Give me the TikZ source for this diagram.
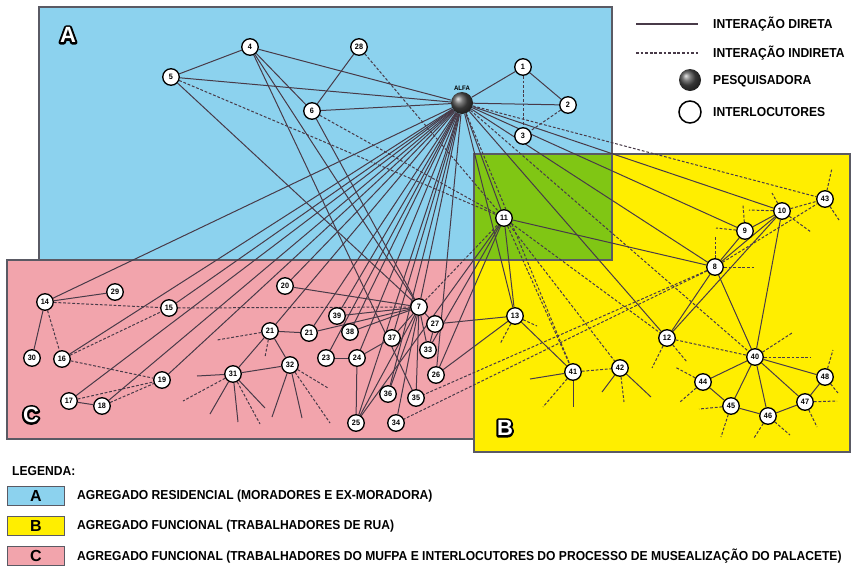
\documentclass[tikz,border=0pt]{standalone}
\usepackage{fontspec}
\setmainfont{Liberation Sans}
\newfontfamily\estreita{Liberation Sans}[FakeStretch=0.93]
\usetikzlibrary{positioning,backgrounds}
\definecolor{azul}{RGB}{140,210,238}
\definecolor{rosa}{RGB}{242,164,172}
\definecolor{amarelo}{RGB}{255,238,0}
\definecolor{verde}{RGB}{128,198,20}
\definecolor{linha}{RGB}{72,58,72}
\definecolor{borda}{RGB}{90,90,100}

% letra branca com contorno preto (copia contornada por baixo, branca por cima)
\newcommand{\letracont}[3]{%
  \node[rotulo] (#1) at #2 {\rlap{\textcolor{black}{\special{pdf:literal direct 1 j 4.2 w 2 Tr}#3\special{pdf:literal direct 0 Tr}}}\textcolor{white}{#3}};}

\begin{document}
\begin{tikzpicture}[x=1pt, y=-1pt,
  pessoa/.style={circle, draw=black, line width=1.3pt, fill=white, minimum size=16.5pt, inner sep=0pt, font=\estreita\bfseries\fontsize{7.8}{7.8}\selectfont},
  esfera/.style={circle, minimum size=22pt, inner sep=0pt, shading=ball, ball color=black!70},
  direta/.style={draw=linha, line width=1pt},
  indireta/.style={draw=linha, line width=1pt, dash pattern=on 2.8pt off 1.8pt},
  regiao/.style={draw=borda, line width=1.3pt},
  rotulo/.style={font=\bfseries\fontsize{22}{22}\selectfont, inner sep=0pt},
  leg/.style={anchor=west, inner sep=0pt, font=\estreita\bfseries\fontsize{13}{13}\selectfont},
  legpeq/.style={anchor=west, inner sep=0pt, font=\estreita\bfseries\fontsize{13}{13}\selectfont},
  legbox/.style={draw=borda, line width=1pt, minimum width=57pt, minimum height=19pt, inner sep=0pt, font=\bfseries\fontsize{16}{16}\selectfont}]
\useasboundingbox (0,0) rectangle (852,582);

% Pesquisadora
\node[esfera] (alfa) at (462,103) {};
\node[above=0pt of alfa, inner sep=1pt, font=\estreita\bfseries\fontsize{6.5}{6.5}\selectfont] (alfarot) {ALFA};

% Agregado A
\node[pessoa] (n1) at (523,67) {1};
\node[pessoa] (n2) at (568,105) {2};
\node[pessoa] (n3) at (523,136) {3};
\node[pessoa] (n4) at (250,47) {4};
\node[pessoa] (n5) at (171,77) {5};
\node[pessoa] (n6) at (312,111) {6};
\node[pessoa] (n28) at (359,47) {28};

% Agregado B
\node[pessoa] (n11) at (504,218) {11};
\node[pessoa] (n10) at (782,211) {10};
\node[pessoa] (n43) at (825,199) {43};
\node[pessoa] (n9) at (745,231) {9};
\node[pessoa] (n8) at (715,267) {8};
\node[pessoa] (n13) at (515,316) {13};
\node[pessoa] (n12) at (667,338) {12};
\node[pessoa] (n41) at (573,372) {41};
\node[pessoa] (n42) at (620,368) {42};
\node[pessoa] (n40) at (755,357) {40};
\node[pessoa] (n44) at (703,382) {44};
\node[pessoa] (n45) at (731,406) {45};
\node[pessoa] (n46) at (768,416) {46};
\node[pessoa] (n47) at (805,402) {47};
\node[pessoa] (n48) at (825,377) {48};

% Agregado C, lado esquerdo
\node[pessoa] (n14) at (45,302) {14};
\node[pessoa] (n29) at (115,292) {29};
\node[pessoa] (n15) at (169,308) {15};
\node[pessoa] (n30) at (32,358) {30};
\node[pessoa] (n16) at (62,359) {16};
\node[pessoa] (n19) at (162,380) {19};
\node[pessoa] (n17) at (69,401) {17};
\node[pessoa] (n18) at (102,406) {18};

% Agregado C, centro
\node[pessoa] (n20) at (285,286) {20};
\node[pessoa] (n7) at (419,307) {7};
\node[pessoa] (n39) at (337,316) {39};
\node[pessoa] (n21a) at (270,331) {21};
\node[pessoa] (n21b) at (309,333) {21};
\node[pessoa] (n38) at (350,332) {38};
\node[pessoa] (n37) at (392,338) {37};
\node[pessoa] (n27) at (435,324) {27};
\node[pessoa] (n33) at (428,350) {33};
\node[pessoa] (n23) at (326,358) {23};
\node[pessoa] (n24) at (357,358) {24};
\node[pessoa] (n31) at (233,374) {31};
\node[pessoa] (n32) at (290,365) {32};
\node[pessoa] (n26) at (436,375) {26};
\node[pessoa] (n36) at (388,394) {36};
\node[pessoa] (n35) at (416,398) {35};
\node[pessoa] (n25) at (356,423) {25};
\node[pessoa] (n34) at (396,423) {34};

% Letras dos agregados
\letracont{letraA}{(68,35)}{A}
\letracont{letraB}{(505,428)}{B}
\letracont{letraC}{(31,415)}{C}

% Legenda de cima
\coordinate (dirA) at (636,24);
\coordinate (dirB) at (698,24);
\coordinate (indA) at (636,53);
\coordinate (indB) at (698,53);
\draw[direta, line width=1.1pt] (dirA) -- (dirB);
\draw[indireta, line width=1.1pt] (indA) -- (indB);
\node[esfera] (legesf) at (690,80) {};
\node[circle, draw=black, line width=1.5pt, minimum size=22pt] (legcirc) at (690,112) {};
\node[leg] (legdir) at (713,24) {INTERAÇÃO DIRETA};
\node[leg] (legind) at (713,53) {INTERAÇÃO INDIRETA};
\node[leg] (legpes) at (713,81) {PESQUISADORA};
\node[leg] (legint) at (713,112) {INTERLOCUTORES};

% Legenda de baixo
\node[legpeq] (legenda) at (12,471) {LEGENDA:};
\node[legbox, fill=azul] (boxA) at (36,496) {A};
\node[legbox, fill=amarelo] (boxB) at (36,526) {B};
\node[legbox, fill=rosa] (boxC) at (36,556) {C};
\node[legpeq] (txtA) at (77,496) {AGREGADO RESIDENCIAL (MORADORES E EX-MORADORA)};
\node[legpeq] (txtB) at (77,526) {AGREGADO FUNCIONAL (TRABALHADORES DE RUA)};
\node[legpeq] (txtC) at (77,556) {AGREGADO FUNCIONAL (TRABALHADORES DO MUFPA E INTERLOCUTORES DO PROCESSO DE MUSEALIZAÇÃO DO PALACETE)};

\begin{scope}[on background layer]
\fill[white] (0,0) rectangle (852,582);
% Regioes
\draw[regiao, fill=azul] (39,7) rectangle (612,260);
\draw[regiao, fill=rosa] (7,260) rectangle (476,439);
\draw[regiao, fill=amarelo] (474,154) rectangle (850,452);
\draw[regiao, fill=verde] (474,154) rectangle (612,260);

% Agregado A
\draw[direta] (alfa) -- (n1);
\draw[direta] (alfa) -- (n2);
\draw[direta] (n1) -- (n2);
\draw[indireta] (n1) -- (n3);
\draw[indireta] (n2) -- (n3);
\draw[direta] (alfa) -- (n4);
\draw[direta] (alfa) -- (n5);
\draw[direta] (alfa) -- (n6);
\draw[direta] (n4) -- (n5);
\draw[direta] (n4) -- (n6);
\draw[direta] (n6) -- (n28);
\draw[direta] (n4) -- (n7);
\draw[direta] (n4) -- (n35);
\draw[direta] (n5) -- (n7);
\draw[direta] (n6) -- (n7);
\draw[indireta] (n28) -- (n11);
\draw[indireta] (n5) -- (n11);
\draw[indireta] (n6) -- (n11);

% ALFA ate o agregado C
\draw[direta] (alfa) -- (n14);
\draw[direta] (alfa) -- (n15);
\draw[direta] (alfa) -- (n16);
\draw[direta] (alfa) -- (n17);
\draw[direta] (alfa) -- (n18);
\draw[direta] (alfa) -- (n19);
\draw[direta] (alfa) -- (n20);
\draw[direta] (alfa) -- (n21a);
\draw[direta] (alfa) -- (n21b);
\draw[direta] (alfa) -- (n39);
\draw[direta] (alfa) -- (n38);
\draw[direta] (alfa) -- (n23);
\draw[direta] (alfa) -- (n24);
\draw[direta] (alfa) -- (n25);
\draw[direta] (alfa) -- (n37);
\draw[direta] (alfa) -- (n36);
\draw[direta] (alfa) -- (n7);
\draw[direta] (alfa) -- (n26);

% ALFA ate o agregado B
\draw[direta] (alfa) -- (n11);
\draw[direta] (alfa) -- (n13);
\draw[direta] (alfa) -- (n12);
\draw[direta] (alfa) -- (n8);
\draw[direta] (alfa) -- (n9);
\draw[direta] (alfa) -- (n10);
\draw[indireta] (alfa) -- (n43);
\draw[indireta] (alfa) -- (n40);
\draw[indireta] (alfa) -- (n41);

% Agregado C, lado esquerdo
\draw[direta] (n14) -- (n29);
\draw[direta] (n14) -- (n30);
\draw[direta] (n17) -- (n18);
\draw[indireta] (n14) -- (n16);
\draw[indireta] (n14) -- (n15);
\draw[indireta] (n15) -- (n7);
\draw[indireta] (n16) -- (n15);
\draw[indireta] (n16) -- (n19);
\draw[indireta] (n17) -- (n19);
\draw[indireta] (n18) -- (n19);

% Agregado C, centro
\draw[direta] (n20) -- (n7);
\draw[direta] (n39) -- (n7);
\draw[direta] (n21b) -- (n7);
\draw[direta] (n38) -- (n7);
\draw[direta] (n37) -- (n7);
\draw[direta] (n25) -- (n7);
\draw[direta] (n36) -- (n7);
\draw[direta] (n35) -- (n7);
\draw[direta] (n34) -- (n7);
\draw[direta] (n27) -- (n7);
\draw[direta] (n33) -- (n7);
\draw[direta] (n21a) -- (n21b);
\draw[direta] (n21a) -- (n31);
\draw[direta] (n21a) -- (n32);
\draw[direta] (n31) -- (n32);
\draw[direta] (n23) -- (n24);
\draw[direta] (n24) -- (n37);
\draw[direta] (n24) -- (n25);
\draw[direta] (n27) -- (n33);
\draw[indireta] (n7) -- (n11);

% Pontas soltas do agregado C
\draw[indireta] (n21a) -- ++(-53,9);
\draw[indireta] (n21a) -- ++(-5,26);
\draw[direta] (n31) -- ++(-36,2);
\draw[indireta] (n31) -- ++(-50,27);
\draw[direta] (n31) -- ++(-23,40);
\draw[direta] (n31) -- ++(5,48);
\draw[indireta] (n31) -- ++(27,50);
\draw[direta] (n31) -- ++(32,34);
\draw[direta] (n32) -- ++(-18,52);
\draw[direta] (n32) -- ++(12,53);
\draw[indireta] (n32) -- ++(40,58);
\draw[indireta] (n32) -- ++(38,23);

% Agregado B
\draw[direta] (n11) -- (n13);
\draw[direta] (n11) -- (n8);
\draw[direta] (n11) -- (n25);
\draw[direta] (n11) -- (n33);
\draw[direta] (n11) -- (n26);
\draw[indireta] (n11) -- (n41);
\draw[indireta] (n11) -- (n42);
\draw[indireta] (n11) -- (n12);
\draw[direta] (n13) -- (n27);
\draw[direta] (n13) -- (n26);
\draw[direta] (n13) -- (n41);
\draw[direta] (n8) -- (n9);
\draw[direta] (n9) -- (n10);
\draw[direta] (n8) -- (n10);
\draw[direta] (n8) -- (n12);
\draw[direta] (n10) -- (n12);
\draw[direta] (n8) -- (n40);
\draw[direta] (n10) -- (n40);
\draw[indireta] (n10) -- (n43);
\draw[indireta] (n8) -- (n43);
\draw[indireta] (n12) -- (n40);
\draw[indireta] (n8) -- (n35);
\draw[indireta] (n8) -- (n34);
\draw[indireta] (n41) -- (n42);
\draw[direta] (n40) -- (n44);
\draw[direta] (n40) -- (n45);
\draw[direta] (n40) -- (n46);
\draw[direta] (n40) -- (n47);
\draw[direta] (n40) -- (n48);
\draw[direta] (n44) -- (n45);
\draw[direta] (n45) -- (n46);
\draw[direta] (n46) -- (n47);
\draw[direta] (n47) -- (n48);

% Pontas soltas do agregado B
\draw[direta] (n41) -- ++(-43,7);
\draw[indireta] (n41) -- ++(-30,35);
\draw[direta] (n41) -- ++(0,35);
\draw[direta] (n42) -- ++(-18,24);
\draw[indireta] (n42) -- ++(4,34);
\draw[direta] (n42) -- ++(31,29);
\draw[indireta] (n13) -- ++(-15,28);
\draw[indireta] (n13) -- ++(22,10);
\draw[indireta] (n12) -- ++(-15,30);
\draw[indireta] (n12) -- ++(20,24);
\draw[indireta] (n40) -- ++(37,-24);
\draw[indireta] (n40) -- ++(56,0);
\draw[indireta] (n44) -- ++(-28,-15);
\draw[indireta] (n44) -- ++(-23,20);
\draw[indireta] (n45) -- ++(-32,3);
\draw[indireta] (n45) -- ++(-10,31);
\draw[indireta] (n46) -- ++(-14,22);
\draw[indireta] (n46) -- ++(22,19);
\draw[indireta] (n47) -- ++(32,-1);
\draw[indireta] (n47) -- ++(12,25);
\draw[indireta] (n48) -- ++(8,-27);
\draw[indireta] (n48) -- ++(13,16);
\draw[indireta] (n43) -- ++(7,-31);
\draw[indireta] (n43) -- ++(14,21);
\draw[indireta] (n10) -- ++(-33,-1);
\draw[indireta] (n10) -- ++(-10,-18);
\draw[indireta] (n10) -- ++(29,21);
\draw[indireta] (n9) -- ++(-29,-3);
\draw[indireta] (n9) -- ++(-2,-26);
\draw[indireta] (n8) -- ++(0,-30);
\draw[indireta] (n8) -- ++(41,0);
\end{scope}
\end{tikzpicture}
\end{document}
